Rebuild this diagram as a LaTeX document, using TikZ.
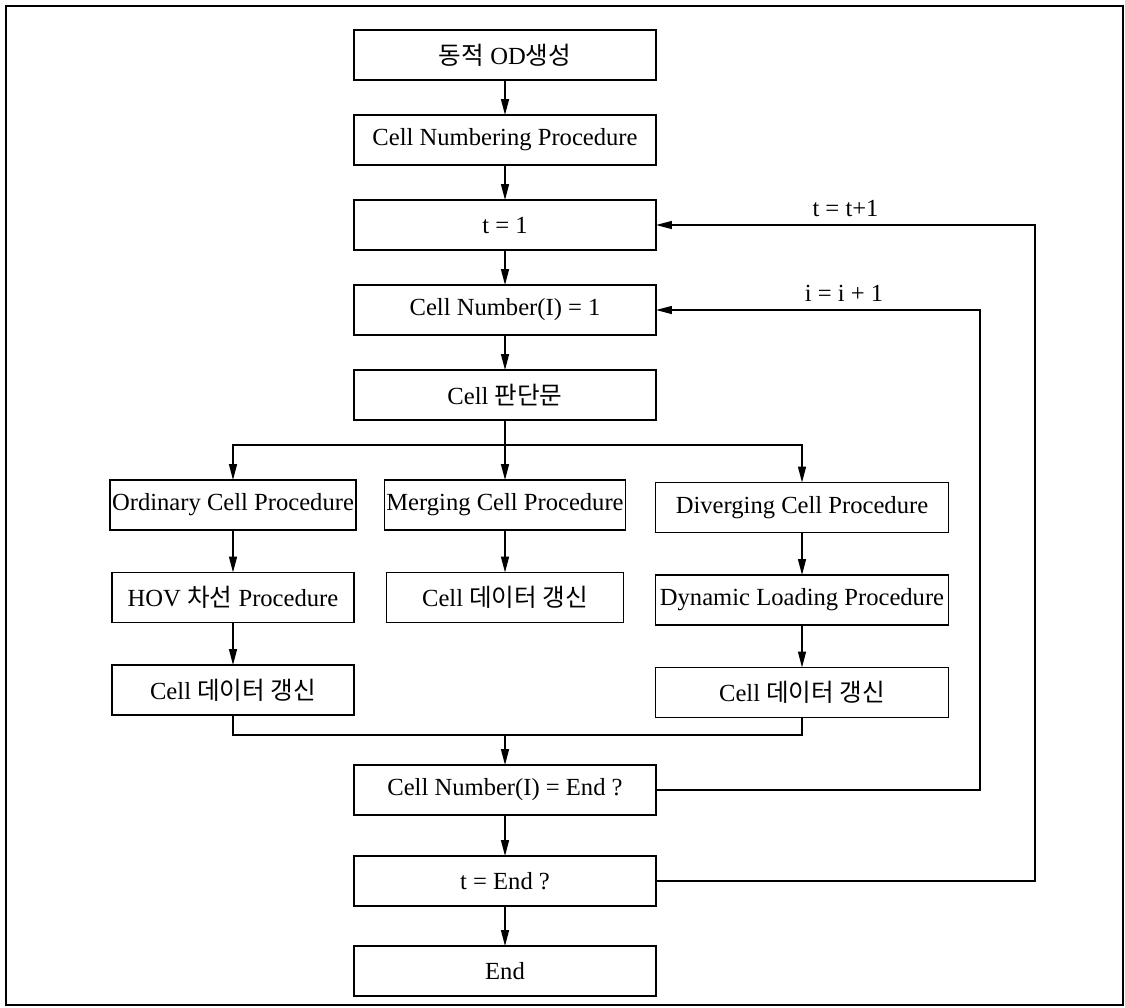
\documentclass[tikz,border=0pt]{standalone}
\usepackage{fontspec}
\setmainfont{Liberation Serif}
\newfontfamily\kr{Noto Sans CJK KR}
\usetikzlibrary{arrows.meta,positioning}

\begin{document}
\begin{tikzpicture}[font=\fontsize{14}{16}\selectfont,
    proc/.style={draw, rectangle, line width=1pt, outer sep=0pt, minimum height=1cm, inner xsep=1pt},
    main/.style={proc, minimum width=6.04cm},
    lcol/.style={proc, minimum width=4.84cm},
    mcol/.style={proc, minimum width=4.74cm},
    rcol/.style={proc, minimum width=5.86cm},
    flow/.style={line width=0.8pt},
    arr/.style={flow, -{Triangle[length=9pt,width=4.5pt]}}]
  \useasboundingbox (0,0) rectangle (22.5,-20.14);
  \draw[line width=0.6pt] (0.12,-0.12) rectangle (22.46,-20.1);

  % main column
  \node[main] (od) at (10.1,-1.1) {{\kr 동적} OD{\kr 생성}};
  \node[main, below=0.7cm of od] (numbering) {Cell Numbering Procedure};
  \node[main, below=0.7cm of numbering] (tinit) {t = 1};
  \node[main, below=0.7cm of tinit] (cinit) {Cell Number(I) = 1};
  \node[main, below=0.7cm of cinit] (judge) {Cell {\kr 판단문}};

  % three cell types
  \node[lcol, below=1.2cm of judge, xshift=-5.44cm] (ordinary) {Ordinary Cell Procedure};
  \node[mcol, below=1.2cm of judge] (merging) {Merging Cell Procedure};
  \node[rcol, below=1.25cm of judge, xshift=5.94cm] (diverging) {Diverging Cell Procedure};
  \node[lcol, below=0.85cm of ordinary] (hov) {HOV {\kr 차선} Procedure};
  \node[lcol, below=0.85cm of hov] (updl) {Cell {\kr 데이터 갱신}};
  \node[mcol, below=0.85cm of merging] (updm) {Cell {\kr 데이터 갱신}};
  \node[rcol, below=0.85cm of diverging] (loading) {Dynamic Loading Procedure};
  \node[rcol, below=0.85cm of loading] (updr) {Cell {\kr 데이터 갱신}};

  % end tests
  \node[main, below=6.9cm of judge] (cend) {Cell Number(I) = End ?};
  \node[main, below=0.82cm of cend] (tend) {t = End ?};
  \node[main, below=0.8cm of tend] (stop) {End};

  \coordinate[below=0.5cm of judge] (split);
  \coordinate[above=0.6cm of cend] (join);

  \foreach \a/\b in {od/numbering, numbering/tinit, tinit/cinit, cinit/judge,
      ordinary/hov, hov/updl, merging/updm, diverging/loading, loading/updr,
      cend/tend, tend/stop}
    \draw[arr] (\a) -- (\b);

  \draw[flow] (judge) -- (split);
  \draw[arr] (split) -| (ordinary);
  \draw[arr] (split) -- (merging);
  \draw[arr] (split) -| (diverging);
  \draw[flow] (updl) |- (join) -| (updr);
  \draw[arr] (join) -- (cend);

  % loops
  \draw[arr] (cend.east) -- ++(6.48,0) |- node[pos=0.71, above=1pt] (iinc) {i = i + 1} (cinit.east);
  \draw[arr] (tend.east) -- ++(7.58,0) |- node[pos=0.75, above=1pt] (tinc) {t = t+1} (tinit.east);
\end{tikzpicture}
\end{document}
